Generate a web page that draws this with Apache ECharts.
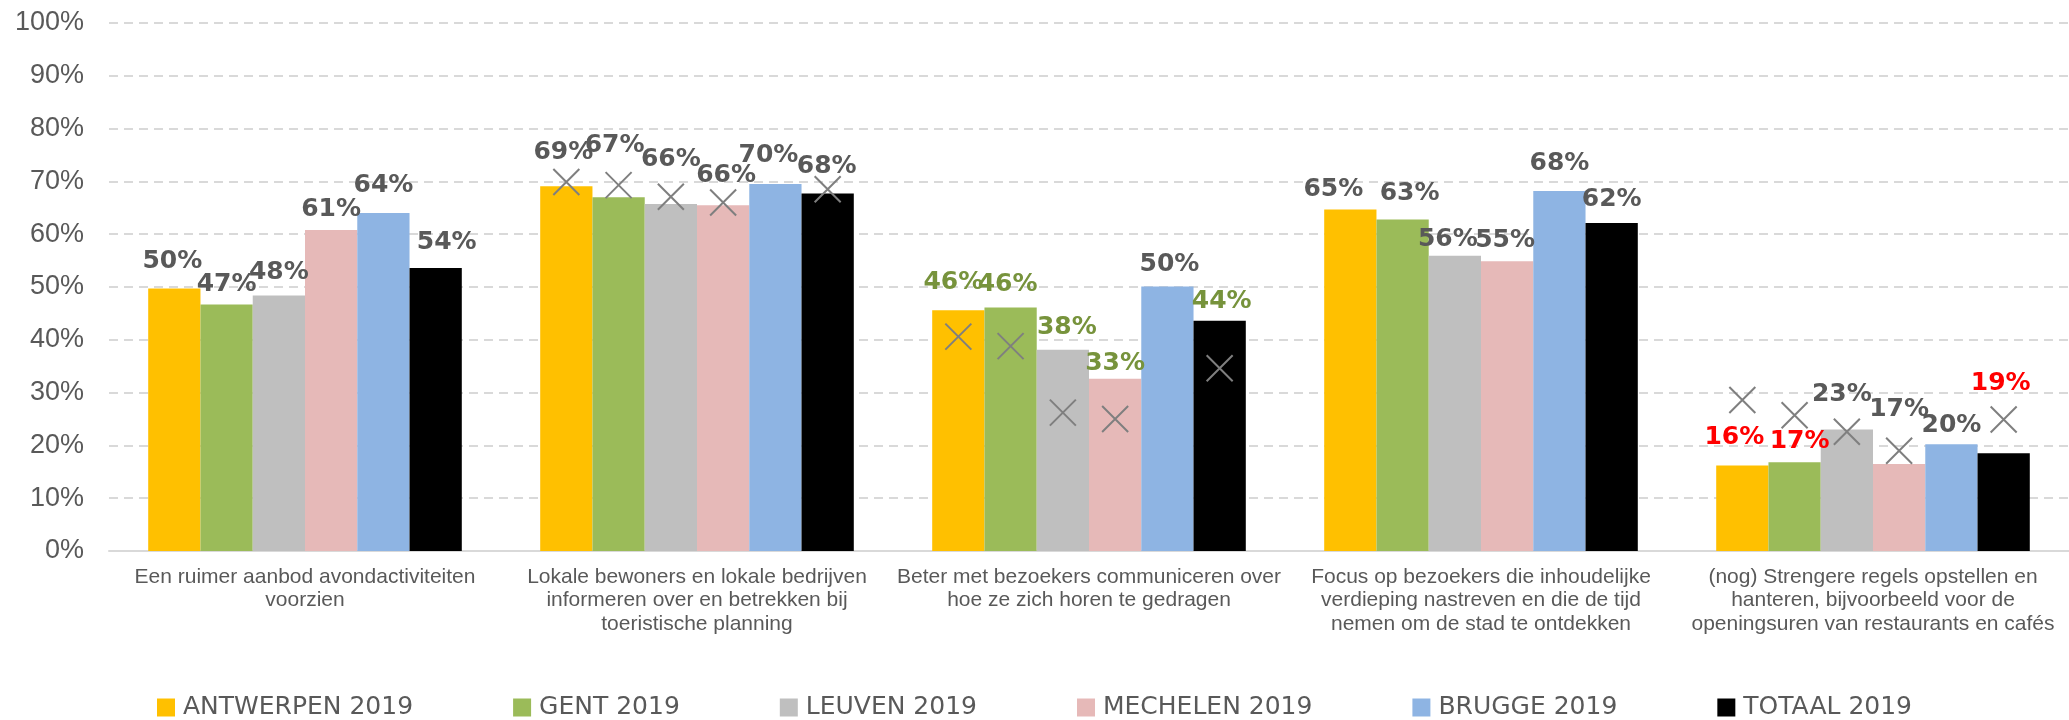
<!DOCTYPE html>
<html>
<head>
<meta charset="utf-8">
<script src="https://cdn.jsdelivr.net/npm/echarts@6/dist/echarts.min.js"></script>
<style>
  html, body { margin: 0; padding: 0; background: #fff; }
  #main-chart { width: 2069px; height: 720px; }
</style>
</head>
<body>
<div id="main-chart"></div>
<script>
const categories = [
  'Een ruimer aanbod avondactiviteiten\nvoorzien',
  'Lokale bewoners en lokale bedrijven\ninformeren over en betrekken bij\ntoeristische planning',
  'Beter met bezoekers communiceren over\nhoe ze zich horen te gedragen',
  'Focus op bezoekers die inhoudelijke\nverdieping nastreven en die de tijd\nnemen om de stad te ontdekken',
  '(nog) Strengere regels opstellen en\nhanteren, bijvoorbeeld voor de\nopeningsuren van restaurants en cafés'
]
const seriesNames = ['ANTWERPEN 2019', 'GENT 2019', 'LEUVEN 2019', 'MECHELEN 2019', 'BRUGGE 2019', 'TOTAAL 2019']

// 2019 values (%)
const antwerpen = [49.7, 69.1, 45.6, 64.7, 16.2]
const gent = [46.7, 67.0, 46.1, 62.8, 16.8]
const leuven = [48.4, 65.7, 38.1, 55.9, 23.0]
const mechelen = [60.8, 65.5, 32.6, 54.9, 16.5]
const brugge = [64.0, 69.5, 50.1, 68.2, 20.2]
const totaal = [53.6, 67.7, 43.6, 62.1, 18.5]

// earlier measurement, drawn as grey crosses
const antwerpenPrev = [null, 69.9, 40.6, null, 28.6]
const gentPrev = [null, 69.3, 38.8, null, 25.7]
const leuvenPrev = [null, 67.1, 26.2, null, 22.6]
const mechelenPrev = [null, 66.0, 25.0, null, 19.0]
const bruggePrev = [null, null, null, null, null]
const totaalPrev = [null, 68.5, 34.6, null, 24.9]

const yTicks = [0, 10, 20, 30, 40, 50, 60, 70, 80, 90, 100]

const values = [antwerpen, gent, leuven, mechelen, brugge, totaal]
const prevValues = [antwerpenPrev, gentPrev, leuvenPrev, mechelenPrev, bruggePrev, totaalPrev]
const colors = ['#FFC000', '#9BBB59', '#BFBFBF', '#E6B9B8', '#8EB4E3', '#000000']

// label nudges [dx, dy] per series / category, like the hand-moved labels
const labelShift = [
  [[-2, -4], [-3, -10], [-5, -4], [-17, 4], [-8, -4]],
  [[0, 4], [-4, -28], [-3, 0], [7, -2], [5, 3]],
  [[0, 1], [0, -21], [4, 1], [-7, 7], [-5, -12]],
  [[0, 3], [3, -6], [0, 8], [-2, 3], [0, -31]],
  [[0, -4], [-7, -5], [2, 2], [0, -4], [0, 5]],
  [[11, -2], [-1, -4], [2, 4], [0, 0], [-3, -46]]
]
const GREY = '#595959'
const GREEN = '#77933C'
const RED = '#FF0000'
const labelColor = (s, c) => {
  if (c === 2 && s !== 4) return GREEN
  if (c === 4 && (s === 0 || s === 1 || s === 5)) return RED
  return GREY
}

const chart = echarts.init(document.getElementById('main-chart'))

const series = values.map((vals, s) => ({
  name: seriesNames[s],
  type: 'bar',
  barGap: '0%',
  barCategoryGap: '20%',
  itemStyle: { color: colors[s] },
  label: {
    show: true,
    position: 'top',
    distance: 11,
    fontFamily: 'DejaVu Sans',
    fontWeight: 'bold',
    fontSize: 25,
    formatter: p => Math.round(p.value) + '%'
  },
  data: vals.map((v, c) => ({
    value: v,
    label: { color: labelColor(s, c), offset: labelShift[s][c] }
  })),
  markPoint: {
    silent: true,
    symbol: 'path://M0,0L1,1M1,0L0,1',
    symbolSize: 26,
    itemStyle: { color: 'none', borderColor: '#7F7F7F', borderWidth: 2 },
    label: { show: false },
    data: prevValues[s]
      .map((v, c) => (v == null ? null : { coord: [c, v] }))
      .filter(d => d)
  }
}))

chart.setOption({
  animation: false,
  grid: { left: 109, top: 23, width: 1971, bottom: 169 },
  legend: {
    data: seriesNames,
    left: 'center',
    top: 690,
    icon: 'rect',
    itemWidth: 18,
    itemHeight: 18,
    itemGap: 100,
    textStyle: {
      fontFamily: 'DejaVu Sans',
      fontSize: 25,
      color: GREY,
      padding: [0, 0, 0, 3]
    }
  },
  xAxis: {
    type: 'category',
    data: categories,
    axisLine: { lineStyle: { color: '#D9D9D9', width: 2 } },
    axisTick: { length: 7, lineStyle: { color: '#D9D9D9', width: 2 } },
    axisLabel: {
      interval: 0,
      margin: 14,
      fontFamily: 'Liberation Sans',
      fontSize: 21,
      lineHeight: 23.5,
      color: GREY
    }
  },
  yAxis: {
    type: 'value',
    min: yTicks[0],
    max: yTicks[yTicks.length - 1],
    interval: 10,
    axisLine: { show: false },
    axisTick: { show: false },
    axisLabel: {
      margin: 25,
      fontFamily: 'Liberation Sans',
      fontSize: 27,
      color: GREY,
      formatter: '{value}%'
    },
    splitLine: { lineStyle: { color: '#D9D9D9', type: [9, 6], width: 2 } }
  },
  series: series
})
</script>
</body>
</html>
